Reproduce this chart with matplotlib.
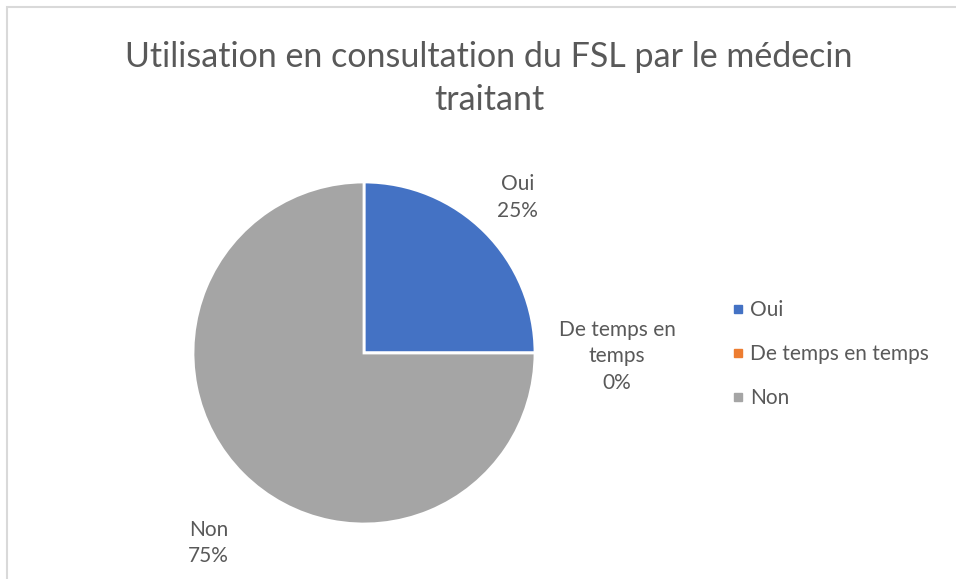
import matplotlib.pyplot as plt
from matplotlib.lines import Line2D
from matplotlib.patches import Rectangle

plt.rcParams['font.family'] = ['Lato', 'DejaVu Sans']

categories = ['Oui', 'De temps en temps', 'Non']
label_names = ['Oui', 'De temps en\ntemps', 'Non']
values = [25, 0, 75]
colors = ['#4472C4', '#ED7D31', '#A5A5A5']
# data label anchors, in units of the pie radius
label_xy = [(0.90, 0.91), (1.48, -0.02), (-0.91, -1.11)]

text_col = '#595959'
W, H = 956, 579

fig = plt.figure(figsize=(W / 100, H / 100), dpi=100)

# light frame around the chart area
fig.patches.append(Rectangle((7 / W, -0.01), 1.02, 1 - 7 / H + 0.01, transform=fig.transFigure,
                             fill=False, edgecolor='#D9D9D9', linewidth=1.5))

fig.text(489 / W, 1 - 57 / H, 'Utilisation en consultation du FSL par le médecin',
         ha='center', va='center', fontsize=24.5, color=text_col)
fig.text(489 / W, 1 - 100 / H, 'traitant', ha='center', va='center', fontsize=24.5,
         color=text_col)

cx, cy, r = 364, 353, 171
ax = fig.add_axes([(cx - r) / W, (H - cy - r) / H, 2 * r / W, 2 * r / H])
wedges, _ = ax.pie(values, colors=colors, startangle=90, counterclock=False, radius=1,
                   wedgeprops=dict(edgecolor='white', linewidth=2))
ax.set_xlim(-1, 1)
ax.set_ylim(-1, 1)
ax.set_aspect('equal')

total = sum(values)
for (x, y), name, v in zip(label_xy, label_names, values):
    ax.text(x, y, f'{name}\n{v / total * 100:.0f}%', ha='center', va='center',
            fontsize=15, color=text_col, linespacing=1.4, clip_on=False)

handles = [Line2D([], [], marker='s', linestyle='', markersize=6, color=c) for c in colors]
fig.legend(handles, categories, loc='center left', bbox_to_anchor=(714 / W, 1 - 354 / H),
           frameon=False, fontsize=15, labelcolor=text_col, handlelength=0.5,
           handletextpad=0.35, labelspacing=1.15)

fig.savefig('out.png', dpi=100)
